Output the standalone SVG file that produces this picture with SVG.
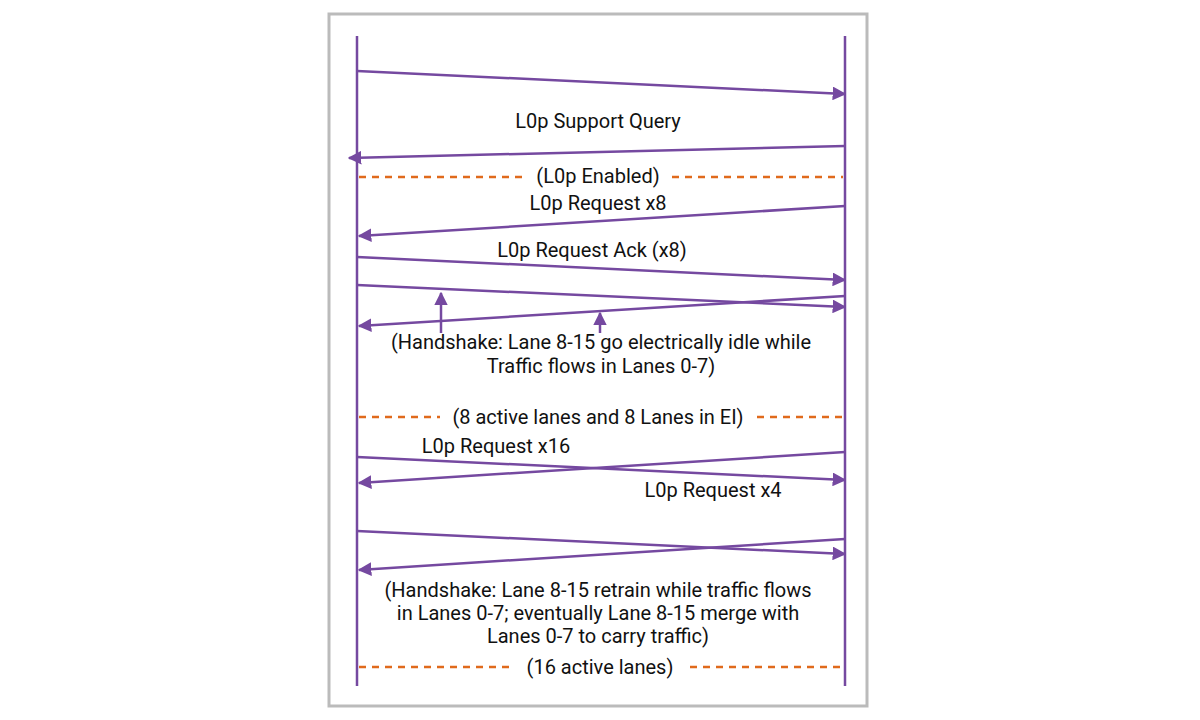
<svg xmlns="http://www.w3.org/2000/svg" width="1200" height="720" viewBox="0 0 1200 720">
<style>
.ll{stroke:#7549a0;stroke-width:2.5;fill:none}
.m{stroke:#7549a0;stroke-width:2.5;fill:none;marker-end:url(#ah)}
.d{stroke:#e06a1c;stroke-width:2.5;stroke-dasharray:7,6;fill:none}
text{font-family:Roboto,"Liberation Sans",sans-serif;font-size:20px;fill:#111;text-anchor:middle}
</style>
<defs><marker id="ah" viewBox="0 0 10 10" refX="9" refY="5" markerWidth="5.5" markerHeight="5.5" orient="auto" markerUnits="strokeWidth"><path d="M0,0L10,5L0,10z" fill="#7549a0"/></marker></defs>
<rect x="0" y="0" width="1200" height="720" fill="#fff"/>
<rect x="329" y="14" width="538" height="692" fill="none" stroke="#bbb" stroke-width="3"/>
<g id="lifelines"><line class="ll" x1="357" y1="36" x2="357" y2="686"/><line class="ll" x1="845" y1="36" x2="845" y2="686"/></g>
<g id="connectors">
<line class="m" x1="357" y1="71" x2="845" y2="94"/>
<line class="m" x1="845" y1="146" x2="349" y2="158"/>
<line class="m" x1="845" y1="206" x2="359" y2="236"/>
<line class="m" x1="357" y1="257" x2="845" y2="280"/>
<line class="m" x1="357" y1="285" x2="845" y2="307"/>
<line class="m" x1="845" y1="296" x2="359" y2="326"/>
<line class="m" x1="441" y1="333" x2="441" y2="293"/>
<line class="m" x1="600" y1="333" x2="600" y2="313"/>
<line class="m" x1="357" y1="457" x2="845" y2="480"/>
<line class="m" x1="845" y1="452" x2="359" y2="483"/>
<line class="m" x1="357" y1="531" x2="845" y2="554"/>
<line class="m" x1="845" y1="539" x2="359" y2="570"/>
<line class="d" x1="359" y1="177" x2="528" y2="177"/><line class="d" x1="672" y1="177" x2="843" y2="177"/>
<line class="d" x1="359" y1="417" x2="440" y2="417"/><line class="d" x1="757" y1="417" x2="843" y2="417"/>
<line class="d" x1="359" y1="667" x2="510" y2="667"/><line class="d" x1="690" y1="667" x2="843" y2="667"/>
</g>
<g id="labels">
<text x="598" y="128">L0p Support Query</text>
<text x="598" y="183">(L0p Enabled)</text>
<text x="598" y="210">L0p Request x8</text>
<text x="592" y="257">L0p Request Ack (x8)</text>
<text x="601" y="349">(Handshake: Lane 8-15 go electrically idle while</text>
<text x="601" y="373">Traffic flows in Lanes 0-7)</text>
<text x="598" y="424">(8 active lanes and 8 Lanes in EI)</text>
<text x="496" y="453">L0p Request x16</text>
<text x="713" y="497">L0p Request x4</text>
<text x="598" y="597">(Handshake: Lane 8-15 retrain while traffic flows</text>
<text x="598" y="620">in Lanes 0-7; eventually Lane 8-15 merge with</text>
<text x="598" y="643">Lanes 0-7 to carry traffic)</text>
<text x="600" y="674">(16 active lanes)</text>
</g>
</svg>
